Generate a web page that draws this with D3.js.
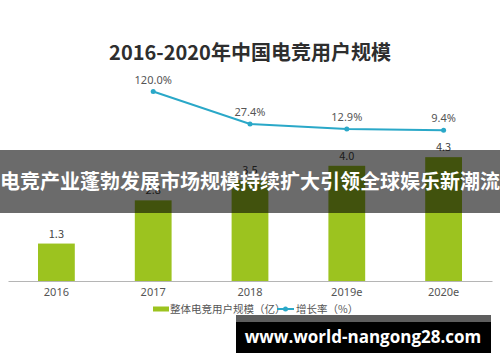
<!DOCTYPE html>
<html>
<head>
<meta charset="utf-8">
<script src="https://cdn.jsdelivr.net/npm/d3@7"></script>
<style>
  html, body { margin: 0; padding: 0; background: #fff; }
  svg { display: block; font-family: "Noto Sans CJK SC", "Noto Sans", sans-serif; }
</style>
</head>
<body>
<svg id="chart" width="500" height="362"></svg>
<script>
// chart data
var years = ["2016", "2017", "2018", "2019e", "2020e"];
var users = [1.3, 2.8, 3.5, 4.0, 4.3];           // 整体电竞用户规模（亿）
var rateYears = ["2017", "2018", "2019e", "2020e"];
var growth = [120.0, 27.4, 12.9, 9.4];           // 增长率（%）

var BAR_COLOR = "#9cc31f";
var LINE_COLOR = "#2aa8c8";

var svg = d3.select("#chart");

var x = d3.scaleBand()
    .domain(years)
    .range([8, 492])
    .paddingInner(0.62)
    .paddingOuter(0.31);

var y = d3.scaleLinear().domain([0, 5]).range([281, 137]);
var yRate = d3.scaleLinear().domain([0, 120]).range([133.5, 91.5]);

// title
svg.append("text")
    .attr("x", 250)
    .attr("y", 60)
    .attr("text-anchor", "middle")
    .attr("font-size", 20)
    .attr("font-weight", "bold")
    .attr("fill", "#2e2e2e")
    .text("2016-2020年中国电竞用户规模");

// bars
svg.append("g").selectAll("rect")
    .data(users)
    .join("rect")
    .attr("x", function(d, i) { return x(years[i]); })
    .attr("y", function(d) { return y(d); })
    .attr("width", x.bandwidth())
    .attr("height", function(d) { return y(0) - y(d); })
    .attr("fill", BAR_COLOR);

svg.append("g").selectAll("text")
    .data(users)
    .join("text")
    .attr("x", function(d, i) { return x(years[i]) + x.bandwidth() / 2; })
    .attr("y", function(d) { return y(d) - 6; })
    .attr("text-anchor", "middle")
    .attr("font-size", 11)
    .attr("fill", "#444")
    .text(function(d) { return d.toFixed(1); });

// x axis
var xAxis = svg.append("g")
    .attr("transform", "translate(0,281)")
    .call(d3.axisBottom(x).tickSize(0).tickSizeOuter(0).tickPadding(7));
xAxis.select(".domain").attr("stroke", "#b5b5b5");
xAxis.selectAll("text")
    .attr("font-size", 11)
    .attr("font-family", "'Noto Sans', sans-serif")
    .attr("fill", "#555");

// growth line
var cx = function(d, i) { return x(rateYears[i]) + x.bandwidth() / 2; };
var line = d3.line().x(cx).y(function(d) { return yRate(d); });

svg.append("path")
    .datum(growth)
    .attr("d", line)
    .attr("fill", "none")
    .attr("stroke", LINE_COLOR)
    .attr("stroke-width", 2);

svg.append("g").selectAll("circle")
    .data(growth)
    .join("circle")
    .attr("cx", cx)
    .attr("cy", function(d) { return yRate(d); })
    .attr("r", 2.5)
    .attr("fill", LINE_COLOR);

svg.append("g").selectAll("text")
    .data(growth)
    .join("text")
    .attr("x", cx)
    .attr("y", function(d) { return yRate(d) - 8; })
    .attr("text-anchor", "middle")
    .attr("font-size", 11)
    .attr("font-family", "'Noto Sans', sans-serif")
    .attr("fill", "#555")
    .text(function(d) { return d.toFixed(1) + "%"; });

// legend
var legend = svg.append("g").attr("transform", "translate(0,309)");
legend.append("rect")
    .attr("x", 153).attr("y", -2.5)
    .attr("width", 16).attr("height", 5)
    .attr("fill", BAR_COLOR);
legend.append("text")
    .attr("x", 170).attr("y", 4)
    .attr("font-size", 10.5)
    .attr("fill", "#555")
    .text("整体电竞用户规模（亿）");
legend.append("line")
    .attr("x1", 277).attr("x2", 294)
    .attr("y1", 0).attr("y2", 0)
    .attr("stroke", LINE_COLOR)
    .attr("stroke-width", 2);
legend.append("circle")
    .attr("cx", 285.5).attr("cy", 0).attr("r", 2.5)
    .attr("fill", LINE_COLOR);
legend.append("text")
    .attr("x", 296).attr("y", 4)
    .attr("font-size", 10.5)
    .attr("fill", "#555")
    .text("增长率（%）");

// banner overlay
svg.append("rect")
    .attr("x", 0).attr("y", 150)
    .attr("width", 500).attr("height", 63)
    .attr("fill", "#000")
    .attr("fill-opacity", 0.58);
svg.append("text")
    .attr("x", 250).attr("y", 189)
    .attr("text-anchor", "middle")
    .attr("font-size", 20)
    .attr("font-weight", "bold")
    .attr("fill", "#fff")
    .text("电竞产业蓬勃发展市场规模持续扩大引领全球娱乐新潮流");

// watermark
svg.append("rect")
    .attr("x", 236).attr("y", 315)
    .attr("width", 255).attr("height", 8)
    .attr("fill", "#5e5e5e");
svg.append("rect")
    .attr("x", 236).attr("y", 322)
    .attr("width", 255).attr("height", 31)
    .attr("fill", "#000");
svg.append("text")
    .attr("x", 363).attr("y", 343)
    .attr("text-anchor", "middle")
    .attr("font-size", 17)
    .attr("font-weight", "bold")
    .attr("font-family", "'Open Sans', 'Noto Sans', sans-serif")
    .attr("fill", "#fff")
    .text("www.world-nangong28.com");
</script>
</body>
</html>
